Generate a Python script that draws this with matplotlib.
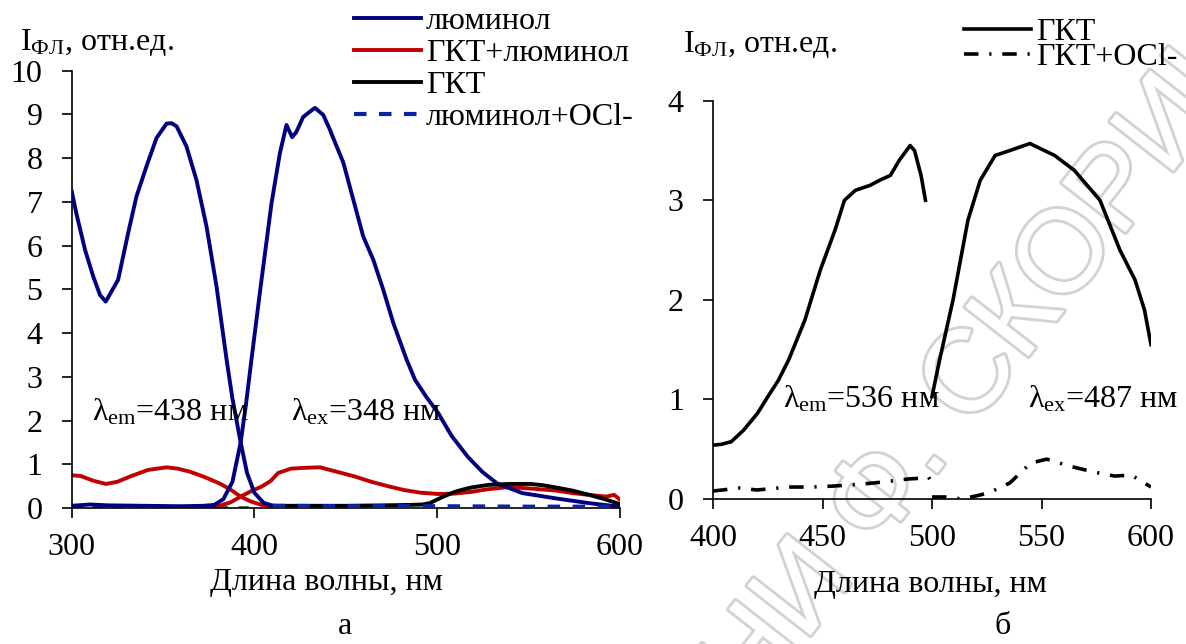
import matplotlib
matplotlib.use('Agg')
import matplotlib.pyplot as plt
from matplotlib import patheffects

plt.rcParams['font.family'] = ['Liberation Serif', 'DejaVu Serif']
plt.rcParams['mathtext.fontset'] = 'custom'
plt.rcParams['mathtext.rm'] = 'Liberation Serif'
plt.rcParams['mathtext.it'] = 'Liberation Serif:italic'

# panel a: luminol
lum_ex_wl = [300, 302.5, 307.3, 311.8, 315.5, 318.6, 325.4, 330.9, 335.4, 340.9, 346.4, 351.9, 354.6,
             357.4, 362.8, 368.3, 373.8, 379.3, 384.8, 388, 392.5, 396, 400, 405, 410]
lum_ex = [7.24, 6.74, 5.9, 5.29, 4.87, 4.72, 5.22, 6.29, 7.12, 7.81, 8.46, 8.79, 8.8,
          8.73, 8.27, 7.5, 6.44, 5.06, 3.39, 2.5, 1.5, 0.8, 0.35, 0.12, 0.05]

lum_em_wl = [300, 310, 320, 340, 360, 372, 378, 383, 388, 392.5, 395.5, 398.4, 403, 409.4, 414, 417.6,
             420.7, 423, 426.7, 430, 433.2, 437.7, 441.4, 443.2, 448.7, 454.2, 459.6, 465.1, 470.6,
             476.1, 483.4, 488, 494, 500.7, 508, 516.9, 525, 533, 546.8, 565, 583.4, 600]
lum_em = [0.05, 0.08, 0.06, 0.05, 0.04, 0.05, 0.07, 0.2, 0.6, 1.5, 2.4, 3.39, 4.92, 6.97, 8.12, 8.76,
          8.48, 8.6, 8.94, 9.05, 9.15, 8.99, 8.65, 8.46, 7.9, 7.05, 6.21, 5.68, 4.99,
          4.23, 3.39, 2.93, 2.55, 2.17, 1.65, 1.17, 0.82, 0.56, 0.34, 0.22, 0.11, 0.03]

mix_ex_wl = [300, 305, 312, 318.8, 325, 332, 341.7, 352, 358, 364.7, 372, 381, 387, 392.5, 398, 404, 411]
mix_ex = [0.75, 0.73, 0.62, 0.55, 0.6, 0.72, 0.87, 0.93, 0.9, 0.83, 0.72, 0.56, 0.42, 0.26, 0.15, 0.07, 0.05]

mix_em_wl = [375, 381, 387, 392.5, 398, 404, 409, 413, 420, 428, 436, 445, 455, 464, 473, 482, 491,
             500.7, 510, 519, 528, 537.4, 546, 556, 565, 574.5, 583, 592.7, 597, 600]
mix_em = [0.02, 0.05, 0.13, 0.26, 0.38, 0.49, 0.62, 0.8, 0.9, 0.92, 0.93, 0.83, 0.72, 0.6, 0.5, 0.41, 0.35,
          0.32, 0.33, 0.37, 0.43, 0.47, 0.46, 0.43, 0.4, 0.34, 0.3, 0.26, 0.3, 0.2]

gkt_a_wl = [411, 430, 450, 470, 485, 492, 496, 503, 509.8, 515, 519, 528.4, 540, 551.4, 558, 565,
            574, 583.4, 592, 600]
gkt_a = [0.05, 0.05, 0.05, 0.06, 0.07, 0.08, 0.11, 0.25, 0.37, 0.43, 0.47, 0.53, 0.55, 0.55, 0.52, 0.47,
         0.4, 0.3, 0.2, 0.09]

lum_ocl_wl = [410, 450, 500, 550, 600]
lum_ocl = [0.05, 0.04, 0.04, 0.03, 0.03]

green_wl = [300, 350, 400]
green = [0.0, 0.01, 0.0]

# panel b: GKT
gkt_ex_wl = [400, 404, 408.3, 413.9, 420.3, 425.1, 429.8, 434.6, 442, 449, 455.7, 460, 465, 471.7,
             476, 481, 485, 490, 492, 495, 497]
gkt_ex = [0.54, 0.55, 0.575, 0.69, 0.86, 1.03, 1.19, 1.4, 1.8, 2.3, 2.7, 3.0, 3.1, 3.15,
          3.2, 3.25, 3.4, 3.55, 3.5, 3.25, 3.0]

gkt_em_wl = [500, 503.5, 509.6, 516.4, 522, 528.8, 535.6, 544.7, 556, 565, 576.7, 585.8, 592.7, 597, 600]
gkt_em = [1.03, 1.4, 2.0, 2.8, 3.2, 3.45, 3.5, 3.57, 3.45, 3.3, 3.0, 2.5, 2.2, 1.9, 1.55]

ocl_ex_wl = [400, 412.3, 420, 434.6, 445, 455.3, 468.1, 477.6, 488.8, 496, 498.4, 499.5]
ocl_ex = [0.08, 0.11, 0.09, 0.12, 0.12, 0.13, 0.15, 0.17, 0.2, 0.21, 0.22, 0.18]

ocl_em_wl = [500, 506, 513.4, 520, 525.7, 535.5, 545, 552.4, 562.8, 574, 583.5, 591, 600]
ocl_em = [0.02, 0.02, 0.0, 0.03, 0.06, 0.16, 0.36, 0.4, 0.33, 0.27, 0.23, 0.24, 0.12]

navy = '#000080'
red = '#c00000'
fs = 23

fig = plt.figure(figsize=(11.86, 6.44), dpi=100)
ax1 = fig.add_axes([0.0605, 0.2112, 0.4619, 0.679])
ax2 = fig.add_axes([0.6012, 0.2252, 0.3693, 0.6184])

ax1.plot(green_wl, green, color='#1e5a1e', lw=2.5, ls=(0, (3, 3)), zorder=1)
ax1.plot(lum_ex_wl, lum_ex, color=navy, lw=2.8, label='люминол', zorder=3)
ax1.plot(lum_em_wl, lum_em, color=navy, lw=2.8, zorder=3)
ax1.plot(mix_ex_wl, mix_ex, color=red, lw=2.8, label='ГКТ+люминол', zorder=2)
ax1.plot(mix_em_wl, mix_em, color=red, lw=2.8, zorder=2)
ax1.plot(gkt_a_wl, gkt_a, color='black', lw=2.8, label='ГКТ', zorder=4)
ax1.plot(lum_ocl_wl, lum_ocl, color='#0a24a8', lw=3, ls=(0, (3, 3)), label='люминол+OCl-', zorder=5)

ax2.plot(gkt_ex_wl, gkt_ex, color='black', lw=2.6, label='ГКТ')
ax2.plot(gkt_em_wl, gkt_em, color='black', lw=2.6)
ax2.plot(ocl_ex_wl, ocl_ex, color='black', lw=2.6, ls=(0, (4, 3, 0.6, 3)), label='ГКТ+OCl-')
ax2.plot(ocl_em_wl, ocl_em, color='black', lw=2.6, ls=(0, (4, 3, 0.6, 3)))

ax1.set_xlim(300, 600)
ax1.set_ylim(0, 10)
ax1.set_xticks([300, 400, 500, 600])
ax1.set_yticks(range(0, 11))
ax2.set_xlim(400, 600)
ax2.set_ylim(0, 4)
ax2.set_xticks([400, 450, 500, 550, 600])
ax2.set_yticks(range(0, 5))

for ax in (ax1, ax2):
    ax.patch.set_visible(False)
    for s in ('top', 'right'):
        ax.spines[s].set_visible(False)
    for s in ('left', 'bottom'):
        ax.spines[s].set_linewidth(1.2)
    ax.tick_params(axis='y', length=7, width=1.2, pad=14, labelsize=fs)
    ax.tick_params(axis='x', length=7, width=1.2, pad=11, labelsize=fs)

ax1.legend(loc='upper left', bbox_to_anchor=(354 / 1186, 1 - 7 / 644), bbox_transform=fig.transFigure,
           frameon=False, fontsize=fs, handlelength=2.1, handletextpad=0.15, labelspacing=0.08,
           borderpad=0, borderaxespad=0)
ax2.legend(loc='upper left', bbox_to_anchor=(964 / 1186, 1 - 18 / 644), bbox_transform=fig.transFigure,
           frameon=False, fontsize=fs, handlelength=2.1, handletextpad=0.15, labelspacing=-0.14,
           borderpad=0, borderaxespad=0)

fig.text(20 / 1186, 1 - 50 / 644, r'$\mathrm{I_{ФЛ}}$, отн.ед.', fontsize=fs, va='baseline')
fig.text(683 / 1186, 1 - 52 / 644, r'$\mathrm{I_{ФЛ}}$, отн.ед.', fontsize=fs, va='baseline')

ax1.text(311, 2.2, r'$\mathrm{λ_{em}}$=438 нм', fontsize=fs, va='center')
ax1.text(420, 2.2, r'$\mathrm{λ_{ex}}$=348 нм', fontsize=fs, va='center')
ax2.text(432, 1.0, r'$\mathrm{λ_{em}}$=536 нм', fontsize=fs, va='center')
ax2.text(543.8, 1.0, r'$\mathrm{λ_{ex}}$=487 нм', fontsize=fs, va='center')

fig.text(326 / 1186, 1 - 590 / 644, 'Длина волны, нм', fontsize=fs, ha='center', va='baseline')
fig.text(930 / 1186, 1 - 592 / 644, 'Длина волны, нм', fontsize=fs, ha='center', va='baseline')
fig.text(345 / 1186, 1 - 634 / 644, 'а', fontsize=fs, ha='center', va='baseline')
fig.text(1003 / 1186, 1 - 634 / 644, 'б', fontsize=fs, ha='center', va='baseline')

# scan watermark, behind the curves
wm = fig.text(940 / 1186, 1 - 420 / 644, 'ИМЕНИ Ф. СКОРИНЫ', fontsize=84, ha='center', va='center',
              rotation=52, rotation_mode='anchor', color='white', zorder=-1, family='Liberation Sans')
wm.set_path_effects([patheffects.withStroke(linewidth=4, foreground='#d2d2d2')])

fig.savefig('out.png', dpi=100)
